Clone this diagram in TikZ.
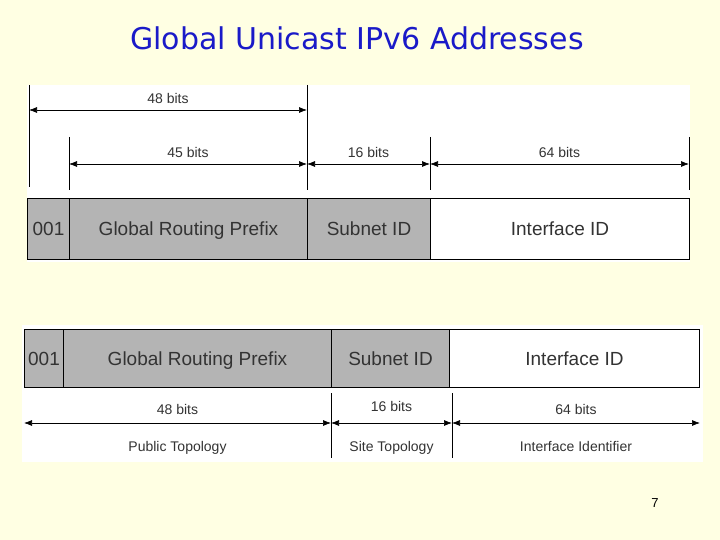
\documentclass[tikz,border=0pt]{standalone}
\usepackage{fontspec}
\setmainfont{Liberation Sans}
\newfontfamily\titlefont{DejaVu Sans}
\usetikzlibrary{arrows.meta}
\definecolor{bg}{HTML}{FFFFE3}
\definecolor{cell}{HTML}{B4B4B4}
\definecolor{ttl}{HTML}{1A1AC8}
\begin{document}
\begin{tikzpicture}[x=1pt,y=-1pt,
  cellbox/.style={draw=black,line width=1pt,fill=cell,inner sep=0},
  whitebox/.style={draw=black,line width=1pt,fill=white,inner sep=0},
  dim/.style={{Latex[length=8pt,width=6pt]}-{Latex[length=8pt,width=6pt]},line width=0.7pt},
  tick/.style={line width=0.7pt},
  lab/.style={font=\fontsize{14}{14}\selectfont,text=black!80,text height=10pt,text depth=3pt},
  big/.style={font=\fontsize{19}{19}\selectfont,text=black!80,text height=13.5pt,text depth=4pt}]
\useasboundingbox (0,0) rectangle (720,540);
\fill[bg] (0,0) rectangle (720,540);
\node[font=\titlefont\fontsize{30}{30}\selectfont,text=ttl] (title) at (357,38) {Global Unicast IPv6 Addresses};
% top panel
\fill[white] (27,85) rectangle (690,262);
\node[cellbox,minimum width=42,minimum height=61,anchor=north west] (a1) at (27,198) {};
\node[big,yshift=-2pt] at (a1) {001};
\node[cellbox,minimum width=238,minimum height=61,anchor=north west] (a2) at (69,198) {};
\node[big,yshift=-2pt] at (a2) {Global Routing Prefix};
\node[cellbox,minimum width=123,minimum height=61,anchor=north west] (a3) at (307,198) {};
\node[big,yshift=-2pt] at (a3) {Subnet ID};
\node[whitebox,minimum width=259,minimum height=61,anchor=north west] (a4) at (430,198) {};
\node[big,yshift=-2pt] at (a4) {Interface ID};
\coordinate (t0a) at (29,85); \coordinate (t0b) at (29,187);
\coordinate (t1a) at (69,137); \coordinate (t1b) at (69,190);
\coordinate (t2a) at (307,85); \coordinate (t2b) at (307,190);
\coordinate (t3a) at (430,137); \coordinate (t3b) at (430,190);
\coordinate (t4a) at (689,137); \coordinate (t4b) at (689,190);
\foreach \i in {0,...,4} \draw[tick] (t\i a) -- (t\i b);
\coordinate (d0) at (29,110); \coordinate (d2) at (307,110);
\draw[dim] (d0) -- node[lab,above=0pt] {48 bits} (d2);
\coordinate (e1) at (69,164); \coordinate (e2) at (307,164);
\coordinate (e3) at (430,164); \coordinate (e4) at (689,164);
\draw[dim] (e1) -- node[lab,above=0pt] {45 bits} (e2);
\draw[dim] (e2) -- node[lab,above=0pt] {16 bits} (e3);
\draw[dim] (e3) -- node[lab,above=0pt] {64 bits} (e4);
% bottom panel
\fill[white] (22,325) rectangle (703,462);
\node[cellbox,minimum width=39,minimum height=58,anchor=north west] (b1) at (24,329) {};
\node[big,yshift=-2pt] at (b1) {001};
\node[cellbox,minimum width=268,minimum height=58,anchor=north west] (b2) at (63,329) {};
\node[big,yshift=-2pt] at (b2) {Global Routing Prefix};
\node[cellbox,minimum width=118,minimum height=58,anchor=north west] (b3) at (331,329) {};
\node[big,yshift=-2pt] at (b3) {Subnet ID};
\node[whitebox,minimum width=250,minimum height=58,anchor=north west] (b4) at (449,329) {};
\node[big,yshift=-2pt] at (b4) {Interface ID};
\coordinate (u1a) at (331,393); \coordinate (u1b) at (331,458);
\coordinate (u2a) at (452,393); \coordinate (u2b) at (452,458);
\draw[tick] (u1a) -- (u1b);
\draw[tick] (u2a) -- (u2b);
\coordinate (f0) at (24,423); \coordinate (f1) at (331,423);
\coordinate (f2) at (452,423); \coordinate (f3) at (700,423);
\draw[dim] (f0) -- node[lab,above=2pt] {48 bits} node[lab,below=15pt] {Public Topology} (f1);
\draw[dim] (f1) -- node[lab,above=5pt] {16 bits} node[lab,below=15pt] {Site Topology} (f2);
\draw[dim] (f2) -- node[lab,above=2pt] {64 bits} node[lab,below=15pt] {Interface Identifier} (f3);
\node[font=\fontsize{13}{13}\selectfont] (pg) at (655,503) {7};
\end{tikzpicture}
\end{document}
